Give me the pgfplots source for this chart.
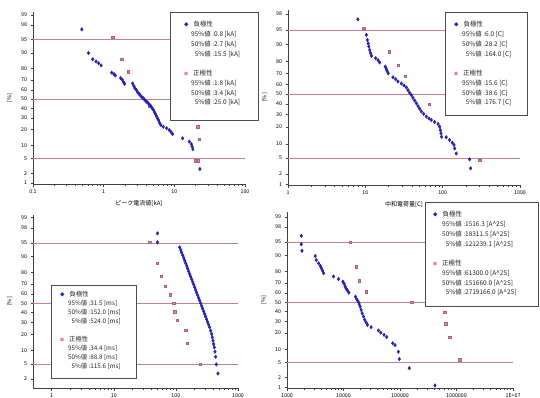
\documentclass[border=0pt]{standalone}
\usepackage{pgfplots}
\pgfplotsset{compat=1.18}
\usepackage{fontspec}
\setmainfont{Noto Sans CJK JP}
\definecolor{negc}{RGB}{35,35,175}
\definecolor{posc}{RGB}{230,130,175}
\definecolor{refc}{RGB}{195,130,140}
\pgfplotsset{
  probax/.style={
    scale only axis,
    axis x line*=bottom, axis y line*=left,
    axis line style={black!75, line width=0.6pt, -},
    tick style={black!75, line width=0.45pt},
    major tick length=2.5pt, minor tick length=1.5pt,
    tick align=outside,
    log ticks with fixed point,
    /pgf/number format/1000 sep={},
    ytick={-2.3263,-2.0537,-1.6449,-1.2816,-0.8416,-0.5244,-0.2533,0,0.2533,0.5244,0.8416,1.2816,1.6449,2.0537,2.3263},
    yticklabels={1,2,5,10,20,30,40,50,60,70,80,90,95,98,99},
    ticklabel style={font=\fontsize{5.3}{5.5}\selectfont, text=black},
    /pgf/number format/assume math mode=true,
    ylabel={[\%]},
    ylabel style={font=\fontsize{5.5}{6}\selectfont, yshift=2pt},
    xlabel style={font=\fontsize{6}{7}\selectfont, yshift=0pt},
    clip=false,
  },
  negs/.style={only marks, mark=diamond*, mark size=1.75pt, color=negc, mark options={draw=negc, fill=negc}},
  poss/.style={only marks, mark=square*, mark size=1.2pt, color=posc, mark options={draw=posc!75!black, fill=posc}},
  refl/.style={refc, line width=0.5pt, no marks},
}
\newcommand{\lgdfont}{\fontsize{6.5}{9.7}\selectfont}
\newcommand{\negm}{{\color{negc}\fontsize{4.5}{4}\selectfont ◆}}
\newcommand{\posm}{{\color{posc}\fontsize{4}{4}\selectfont ■}}
\begin{document}
\begin{tikzpicture}
\useasboundingbox (0,0) rectangle (540pt,-398pt);
\fill[white] (0,0) rectangle (540pt,-398pt);

% ---------------- Panel 1: peak current ----------------
\begin{axis}[xmode=log, probax, at={(33pt,-184pt)}, anchor=south west,
  width=212pt, height=172pt,
  xmin=0.1, xmax=100, ymin=-2.355, ymax=2.41,
  xtick={0.1,1,10,100},
  minor xtick={0.2,0.3,0.4,0.5,0.6,0.7,0.8,0.9,2,3,4,5,6,7,8,9,20,30,40,50,60,70,80,90},
  xlabel={ピーク電流値[kA]}]
\addplot[refl] coordinates {(0.1,1.6449) (100,1.6449)};
\addplot[refl] coordinates {(0.1,0) (100,0)};
\addplot[refl] coordinates {(0.1,-1.6449) (100,-1.6449)};
\addplot[poss] coordinates {(1.34,1.71) (1.80,1.10) (2.23,0.76) (4.5,-0.20) (21.3,-0.77) (22.3,-1.12) (19.6,-1.71) (21.8,-1.71)};
\addplot[negs] coordinates {(0.49,1.93) (0.61,1.27) (0.70,1.10) (0.78,1.04) (0.85,0.99) (0.92,0.93) (1.30,0.73) (1.40,0.69) (1.46,0.65) (1.74,0.58) (1.84,0.53) (1.92,0.46) (1.98,0.42) (2.57,0.43) (2.68,0.36) (2.77,0.30) (2.90,0.25) (3.02,0.19) (3.16,0.15) (3.30,0.10) (3.44,0.06) (3.60,0.03) (3.76,-0.01) (3.93,-0.05) (4.09,-0.08) (4.28,-0.12) (4.47,-0.16) (4.67,-0.20) (4.87,-0.26) (5.09,-0.31) (5.26,-0.37) (5.43,-0.42) (5.61,-0.48) (5.80,-0.54) (5.99,-0.59) (6.19,-0.66) (6.46,-0.72) (6.97,-0.77) (7.78,-0.81) (8.48,-0.86) (8.95,-0.91) (9.44,-0.97) (13.1,-1.09) (16.3,-1.18) (17.4,-1.25) (17.9,-1.32) (18.3,-1.39) (23.0,-1.94)};
\end{axis}

% ---------------- Panel 2: charge ----------------
\begin{axis}[xmode=log, probax, at={(288pt,-185pt)}, anchor=south west,
  width=232pt, height=175pt,
  xmin=1, xmax=1000, ymin=-2.339, ymax=2.159,
  xtick={1,10,100,1000},
  minor xtick={2,3,4,5,6,7,8,9,20,30,40,50,60,70,80,90,200,300,400,500,600,700,800,900},
  xlabel={中和電荷量[C]}]
\addplot[refl] coordinates {(1,1.6449) (1000,1.6449)};
\addplot[refl] coordinates {(1,0) (1000,0)};
\addplot[refl] coordinates {(1,-1.6449) (1000,-1.6449)};
\addplot[poss] coordinates {(9.5,1.69) (20.2,1.09) (26.4,0.74) (32.9,0.46) (66.6,-0.26) (301,-1.70)};
\addplot[negs] coordinates {(8.0,1.92) (10.3,1.52) (10.6,1.39) (10.9,1.30) (11.1,1.22) (11.4,1.13) (11.7,1.05) (12.0,0.98) (13.6,0.92) (14.6,0.87) (15.3,0.81) (18.1,0.70) (18.7,0.64) (19.1,0.59) (19.8,0.53) (22.8,0.43) (24.7,0.38) (26.4,0.32) (29.2,0.27) (31.6,0.22) (33.9,0.17) (35.6,0.10) (37.4,0.03) (39.4,-0.03) (41.3,-0.10) (43.5,-0.17) (45.7,-0.24) (48.0,-0.31) (50.4,-0.38) (53.0,-0.45) (56.8,-0.51) (61.5,-0.58) (66.6,-0.63) (71.3,-0.67) (78.8,-0.72) (87.1,-0.77) (91.5,-0.84) (93.3,-0.93) (95.1,-1.01) (97.0,-1.10) (111,-1.11) (123,-1.18) (133,-1.25) (140,-1.31) (143,-1.40) (150,-1.53) (223,-1.68) (230,-1.91)};
\end{axis}

% ---------------- Panel 3: duration ----------------
\begin{axis}[xmode=log, probax, at={(33pt,-388pt)}, anchor=south west,
  width=205pt, height=173pt,
  xmin=0.5, xmax=1000, ymin=-2.30, ymax=2.40,
  xtick={1,10,100,1000},
  minor xtick={2,3,4,5,6,7,8,9,20,30,40,50,60,70,80,90,200,300,400,500,600,700,800,900}]
\addplot[refl] coordinates {(0.5,1.6449) (1000,1.6449)};
\addplot[refl] coordinates {(0.5,0) (1000,0)};
\addplot[refl] coordinates {(0.5,-1.6449) (1000,-1.6449)};
\addplot[poss] coordinates {(38,1.66) (50.5,1.09) (58.6,0.74) (67.9,0.47) (81.6,0.24) (92.4,0) (95.9,-0.23) (106,-0.45) (144,-0.73) (153,-1.09) (248,-1.66)};
\addplot[negs] coordinates {(50.5,1.90) (50.5,1.66) (115,1.523) (120,1.451) (124,1.378) (129,1.306) (134,1.233) (139,1.160) (144,1.088) (150,1.015) (155,0.943) (161,0.870) (167,0.798) (173,0.725) (180,0.653) (187,0.580) (194,0.508) (201,0.435) (208,0.363) (216,0.290) (224,0.218) (233,0.145) (242,0.073) (251,0) (261,-0.073) (270,-0.145) (281,-0.218) (291,-0.290) (302,-0.363) (313,-0.435) (325,-0.508) (337,-0.580) (350,-0.653) (363,-0.743) (377,-0.834) (386,-0.925) (396,-1.015) (406,-1.106) (416,-1.197) (426,-1.315) (437,-1.451) (448,-1.659) (476,-1.904)};
\end{axis}

% ---------------- Panel 4: action integral ----------------
\begin{axis}[xmode=log, probax, at={(287pt,-388pt)}, anchor=south west,
  width=226pt, height=176pt,
  xmin=1000, xmax=10000000, ymin=-2.34, ymax=2.46,
  xtick={1000,10000,100000,1000000},
  extra x ticks={10000000}, extra x tick labels={1E+07},
  minor xtick={2000,3000,4000,5000,6000,7000,8000,9000,20000,30000,40000,50000,60000,70000,80000,90000,200000,300000,400000,500000,600000,700000,800000,900000,2000000,3000000,4000000,5000000,6000000,7000000,8000000,9000000}]
\addplot[refl] coordinates {(1000,1.6449) (10000000,1.6449)};
\addplot[refl] coordinates {(1000,0) (10000000,0)};
\addplot[refl] coordinates {(1000,-1.6449) (10000000,-1.6449)};
\addplot[poss] coordinates {(13100,1.63) (16700,0.97) (18900,0.59) (25100,0.29) (160700,0) (622000,-0.28) (640000,-0.59) (762000,-0.95) (1145000,-1.57)};
\addplot[negs] coordinates {(1790,1.81) (1790,1.58) (1840,1.40) (3160,1.26) (3290,1.15) (3620,1.06) (3880,0.99) (4040,0.93) (4260,0.86) (4440,0.79) (6660,0.70) (8160,0.63) (9730,0.56) (10280,0.50) (10700,0.43) (11140,0.37) (11770,0.32) (12420,0.26) (16290,0.15) (17180,0.08) (18150,0.02) (18880,-0.05) (19680,-0.12) (20500,-0.21) (21340,-0.30) (22540,-0.39) (23780,-0.48) (25120,-0.55) (26530,-0.62) (30770,-0.68) (41470,-0.77) (45610,-0.83) (52200,-0.89) (58180,-0.95) (74260,-1.12) (81600,-1.17) (93500,-1.35) (97300,-1.55) (146000,-1.80) (415000,-2.27)};
\end{axis}

% ---------------- Legends ----------------
% Panel 1
\draw[black!70, line width=0.5pt, fill=white] (170pt,-12pt) rectangle (258pt,-120pt);
\node[anchor=north west, inner sep=0pt, font=\lgdfont, text=black!85] at (191pt,-20pt) {%
\begin{tabular}{@{}r@{ :}l@{}}
\multicolumn{2}{@{}l}{\hspace{-7pt}\negm\hspace{5pt}負極性}\\
95\%値 & 0.8 [kA]\\
50\%値 & 2.7 [kA]\\
5\%値 & 15.5 [kA]\\[10pt]
\multicolumn{2}{@{}l}{\hspace{-7pt}\posm\hspace{5pt}正極性}\\
95\%値 & 1.8 [kA]\\
50\%値 & 3.4 [kA]\\
5\%値 & 25.0 [kA]
\end{tabular}};
% Panel 2
\draw[black!70, line width=0.5pt, fill=white] (445pt,-12pt) rectangle (527pt,-115pt);
\node[anchor=north west, inner sep=0pt, font=\lgdfont, text=black!85] at (462pt,-20pt) {%
\begin{tabular}{@{}r@{ :}l@{}}
\multicolumn{2}{@{}l}{\hspace{-8pt}\negm\hspace{5pt}負極性}\\
95\%値 & 6.0 [C]\\
50\%値 & 28.2 [C]\\
5\%値 & 164.0 [C]\\[10pt]
\multicolumn{2}{@{}l}{\hspace{-8pt}\posm\hspace{5pt}正極性}\\
95\%値 & 15.6 [C]\\
50\%値 & 38.6 [C]\\
5\%値 & 176.7 [C]
\end{tabular}};
% Panel 3
\draw[black!70, line width=0.5pt, fill=white] (51pt,-285pt) rectangle (136pt,-378pt);
\node[anchor=north west, inner sep=0pt, font=\fontsize{6.3}{9}\selectfont, text=black!85] at (68pt,-290pt) {%
\begin{tabular}{@{}r@{ :}l@{}}
\multicolumn{2}{@{}l}{\hspace{-8pt}\negm\hspace{5pt}負極性}\\
95\%値 & 31.5 [ms]\\
50\%値 & 152.0 [ms]\\
5\%値 & 524.0 [ms]\\[9pt]
\multicolumn{2}{@{}l}{\hspace{-8pt}\posm\hspace{5pt}正極性}\\
95\%値 & 34.4 [ms]\\
50\%値 & 88.8 [ms]\\
5\%値 & 115.6 [ms]
\end{tabular}};
% Panel 4
\draw[black!70, line width=0.5pt, fill=white] (425pt,-202pt) rectangle (538pt,-306pt);
\node[anchor=north west, inner sep=0pt, font=\lgdfont, text=black!85] at (442pt,-210pt) {%
\begin{tabular}{@{}r@{ :}l@{}}
\multicolumn{2}{@{}l}{\hspace{-9pt}\negm\hspace{5pt}負極性}\\
95\%値 & 1516.3 [A\^{}2S]\\
50\%値 & 18311.5 [A\^{}2S]\\
5\%値 & 121239.1 [A\^{}2S]\\[10pt]
\multicolumn{2}{@{}l}{\hspace{-9pt}\posm\hspace{5pt}正極性}\\
95\%値 & 61300.0 [A\^{}2S]\\
50\%値 & 151660.0 [A\^{}2S]\\
5\%値 & 2719166.0 [A\^{}2S]
\end{tabular}};
\end{tikzpicture}
\end{document}
